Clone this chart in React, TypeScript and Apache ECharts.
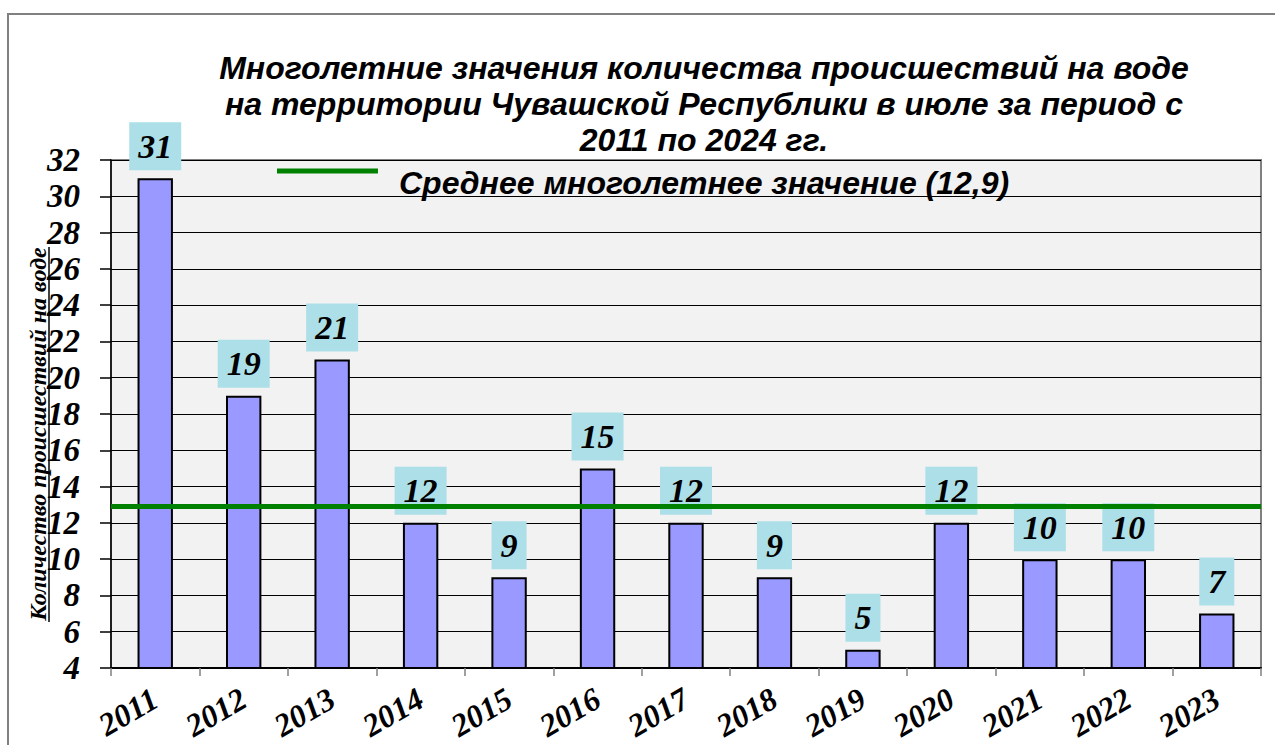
import React, { useEffect, useRef } from "react";
import * as echarts from "echarts";

const years = ["2011", "2012", "2013", "2014", "2015", "2016", "2017", "2018", "2019", "2020", "2021", "2022", "2023"];
const incidents = [31, 19, 21, 12, 9, 15, 12, 9, 5, 12, 10, 10, 7];
const averageValue = 12.9;
const averageName = "Среднее многолетнее значение (12,9)";
const titleText = "Многолетние значения количества происшествий на воде\nна территории Чувашской Республики в июле за период с\n2011 по 2024 гг.";
const yAxisName = "Количество происшествий на воде";

const serif = "'Liberation Serif', 'Times New Roman', serif";
const sans = "'Liberation Sans', Arial, sans-serif";

// legend icon: a 5px bar at the top of a taller, otherwise empty box
const legendIcon = "path://M0,0L101,0L101,5L0,5Z M0,29L0.01,29L0.01,29.01Z";

export default function App() {
  const ref = useRef<HTMLDivElement>(null);
  useEffect(() => {
    document.body.style.margin = "0";
    const chart = echarts.init(ref.current!, null, { renderer: "svg" });
    chart.setOption({
      animation: false,
      backgroundColor: "#ffffff",
      title: {
        text: titleText,
        left: 699,
        textAlign: "center",
        top: 45,
        textStyle: {
          fontFamily: sans,
          fontSize: 32,
          fontWeight: "bold",
          fontStyle: "italic",
          color: "#000",
          lineHeight: 36,
        },
      },
      legend: {
        left: 272,
        top: 162,
        data: [{ name: averageName, icon: legendIcon, itemStyle: { color: "#008000" } }],
        itemWidth: 101,
        itemHeight: 29,
        selectedMode: false,
        textStyle: {
          fontFamily: sans,
          fontSize: 32,
          fontWeight: "bold",
          fontStyle: "italic",
          color: "#000",
          padding: [0, 0, 0, 16],
        },
      },
      grid: {
        left: 111,
        top: 160,
        right: 14,
        bottom: 77,
        containLabel: false,
        outerBoundsMode: "none",
        show: true,
        backgroundColor: "#F2F2F2",
        borderColor: "#808080",
        borderWidth: 2,
      },
      xAxis: {
        type: "category",
        data: years,
        boundaryGap: true,
        axisLine: { lineStyle: { color: "#000", width: 2 } },
        axisTick: { show: true, alignWithLabel: false, length: 8, lineStyle: { color: "#808080", width: 1.5 } },
        axisLabel: {
          rotate: 30,
          margin: 28,
          fontFamily: serif,
          fontSize: 32,
          fontWeight: "bold",
          fontStyle: "italic",
          color: "#000",
        },
      },
      yAxis: {
        type: "value",
        min: 4,
        max: 32,
        interval: 2,
        name: yAxisName,
        nameLocation: "middle",
        nameGap: 61,
        nameMoveOverlap: false,
        nameTextStyle: {
          fontFamily: serif,
          fontSize: 24,
          fontWeight: "bold",
          fontStyle: "italic",
          color: "#000",
          padding: [0, 40, 0, 0],
        },
        axisLine: { show: true, lineStyle: { color: "#000", width: 1.5 } },
        axisTick: { show: true, length: 11, lineStyle: { color: "#000", width: 1.5 } },
        axisLabel: {
          margin: 31,
          fontFamily: serif,
          fontSize: 33,
          fontWeight: "bold",
          fontStyle: "italic",
          color: "#000",
        },
        splitLine: { show: true, lineStyle: { color: "#000", width: 1.2 } },
      },
      series: [
        {
          type: "bar",
          name: "Количество",
          data: incidents,
          barWidth: "40%",
          itemStyle: { color: "#9999FF", borderColor: "#000", borderWidth: 2 },
          label: {
            show: true,
            position: "top",
            distance: 8,
            fontFamily: serif,
            fontSize: 34,
            lineHeight: 34,
            fontWeight: "bold",
            fontStyle: "italic",
            color: "#000",
            backgroundColor: "#ADDFE8",
            padding: [7, 9, 7, 9],
          },
          z: 2,
        },
        {
          type: "line",
          name: averageName,
          data: [],
          color: "#008000",
          markLine: {
            silent: true,
            symbol: ["none", "none"],
            label: { show: false },
            lineStyle: { color: "#008000", width: 5, type: "solid" },
            data: [{ yAxis: averageValue }],
          },
          z: 5,
        },
      ],
      graphic: [
        {
          type: "rect",
          shape: { x: 8, y: 14, width: 1400, height: 900 },
          style: { fill: "none", stroke: "#808080", lineWidth: 2 },
          silent: true,
          z: -1,
        },
        {
          type: "line",
          shape: { x1: 49, y1: 247, x2: 49, y2: 622 },
          style: { stroke: "#000", lineWidth: 1.5 },
          silent: true,
        },
      ],
    });
    return () => chart.dispose();
  }, []);
  return <div ref={ref} style={{ width: 1275, height: 745, position: "absolute", left: 0, top: 0 }} />;
}
